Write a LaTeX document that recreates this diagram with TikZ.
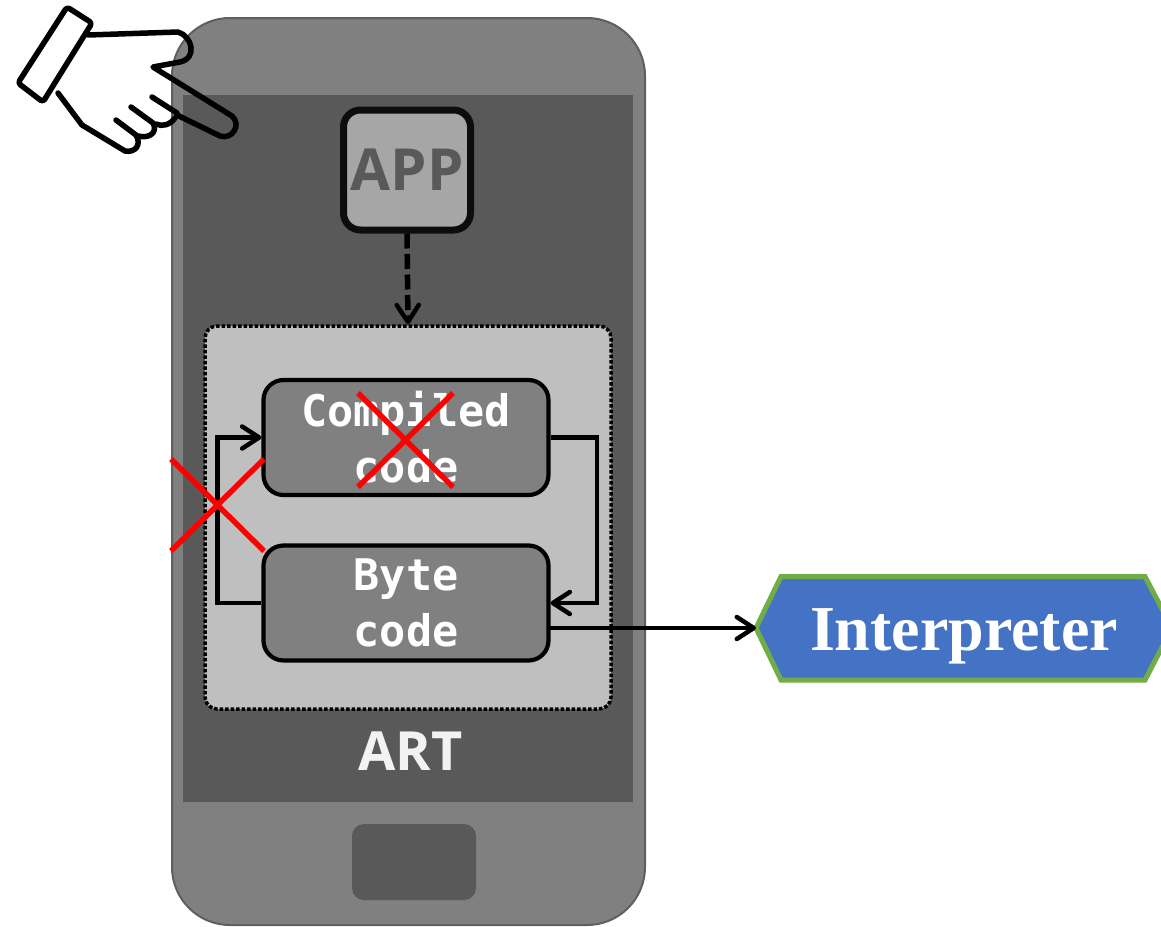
\documentclass[tikz,border=0pt]{standalone}
\usepackage{fontspec}
\setmainfont{Liberation Serif}
\newfontfamily\monob{DejaVu Sans Mono}
\newfontfamily\opensans{Open Sans}
\usetikzlibrary{arrows.meta,calc}
\definecolor{phonegray}{HTML}{808080}
\definecolor{phoneedge}{HTML}{5F5F5F}
\definecolor{screengray}{HTML}{595959}
\definecolor{appgray}{HTML}{A6A6A6}
\definecolor{vmgray}{HTML}{BFBFBF}
\definecolor{hexblue}{HTML}{4472C4}
\definecolor{hexgreen}{HTML}{70AD47}
\definecolor{arttext}{HTML}{F2F2F2}
\tikzset{
  x=1pt,y=-1pt,
  barb/.style={-{Straight Barb[length=17pt,width=22pt,line width=4.5pt,round]}},
  codebox/.style={draw=black,line width=4.2pt,fill=phonegray,rounded corners=20pt,
    minimum width=285pt,minimum height=115pt,inner sep=0pt,text=white,align=center,
    font=\monob\bfseries\fontsize{43.5}{57}\selectfont},
  redcross/.style={draw=red,line width=5.5pt},
  handline/.style={draw=black,line width=5.5pt,line join=round,line cap=round},
}
\begin{document}
\begin{tikzpicture}
\clip (0,0) rectangle (1161,926);
\useasboundingbox (0,0) rectangle (1161,926);
% phone
\path[fill=phonegray,draw=phoneedge,line width=2pt,rounded corners=58pt] (172,18) rectangle (645,925);
\path[fill=screengray] (183,95) rectangle (633,802);
\path[fill=screengray,rounded corners=12pt] (352,824) rectangle (476,900);
% app
\node[draw=black!95,line width=7pt,fill=appgray,rounded corners=17pt,minimum width=127pt,minimum height=120pt,inner sep=0pt,
  text=screengray,font=\opensans\bfseries\fontsize{58}{62}\selectfont] (app) at (407,170) {APP};
% ART container
\node[draw=black,line width=3.5pt,dotted,fill=vmgray,rounded corners=12pt,minimum width=406pt,minimum height=383pt,inner sep=0pt] (art) at (408,517.5) {};
\draw[barb,line width=5.5pt,dash pattern=on 15pt off 5.5pt] (app.south) -- (art.north);
\node[codebox] (compiled) at (406,437.5) {Compiled\\[-1pt]code};
\node[codebox] (byte) at (406,603) {Byte\\[-1pt]code};
\node[text=arttext,font=\opensans\bfseries\fontsize{54}{60}\selectfont,inner sep=0pt] (artlabel) at (410.5,751) {ART};
% interpreter
\coordinate (tip) at (756,628);
\path[fill=hexblue,draw=hexgreen,line width=5pt,line join=miter] (tip) -- (781,576.5) -- (1145,576.5) -- (1172,628) -- (1145,680) -- (781,680) -- cycle;
\node[text=white,font=\bfseries\fontsize{64}{68}\selectfont,inner sep=0pt] (interp) at (964,636) {Interpreter};
% connectors
\draw[barb,line width=4.2pt] (byte.west) -- ++(-44,0) |- (compiled.west);
\draw[barb,line width=4.2pt] (compiled.east) -- ++(46,0) |- (byte.east);
\coordinate (byteout) at ($(byte.east)+(-2,25)$);
\draw[barb,line width=4.2pt] (byteout) -- (tip);
% crosses
\draw[redcross] (358,393) -- (453,487) (453,393) -- (358,487);
\draw[redcross] (171,459) -- (264,551) (264,459) -- (171,551);
% hand
\draw[handline,rounded corners=3pt] (67,7) -- (92,23) -- (43,102) -- (18,83) -- cycle;
\draw[handline] (88,35) -- (178,32) .. controls (192,36) and (198,58) .. (180,62) -- (153,67) -- (232,116)
  .. controls (242,125) and (232,140) .. (220,136) -- (177,115);
\draw[handline] (152,97) -- (177,113);
\draw[handline] (175,118) .. controls (170,125) and (162,127) .. (156,124);
\draw[handline] (131,107) -- (153,123) .. controls (158,132) and (150,139) .. (138,136);
\draw[handline] (116,120) -- (136,135) .. controls (142,145) and (135,153) .. (125,151) -- (82,125) -- (58,93);
\end{tikzpicture}
\end{document}
